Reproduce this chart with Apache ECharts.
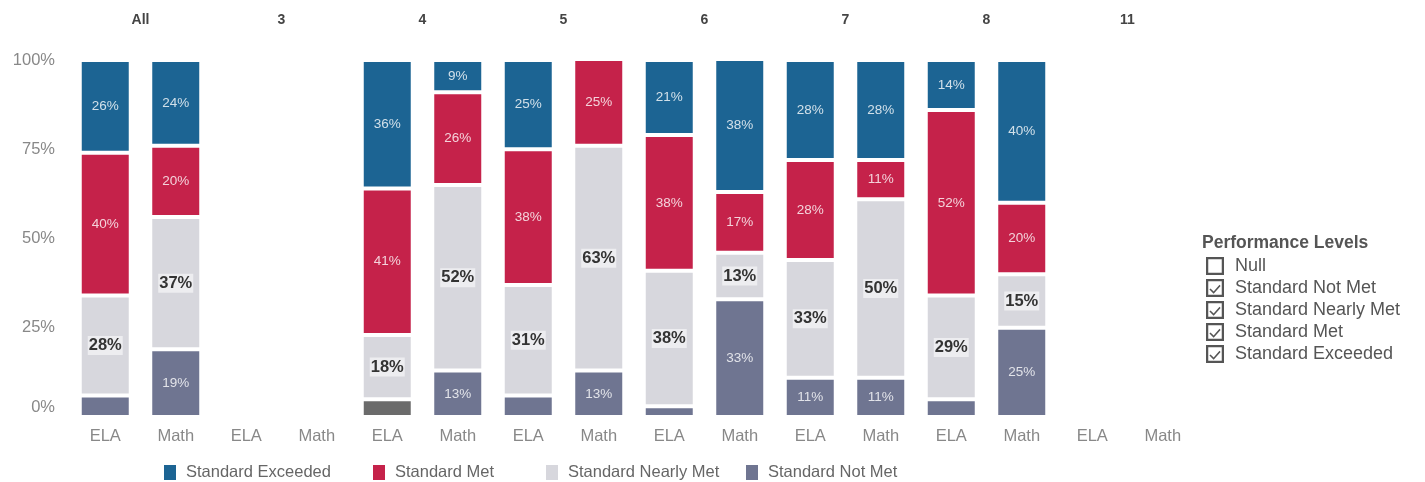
<!DOCTYPE html>
<html>
<head>
<meta charset="UTF-8">
<title>Performance Levels</title>
<script src="https://cdn.jsdelivr.net/npm/echarts@6/dist/echarts.min.js"></script>
<style>
  html, body { margin: 0; padding: 0; background: #fff; }
  #chart { width: 1425px; height: 482px; }
</style>
</head>
<body>
<div id="chart"></div>
<script>
// grades on top, subjects on the bottom axis
var grades = ['All', '3', '4', '5', '6', '7', '8', '11'];
var subjects = ['ELA', 'Math', 'ELA', 'Math', 'ELA', 'Math', 'ELA', 'Math',
                'ELA', 'Math', 'ELA', 'Math', 'ELA', 'Math', 'ELA', 'Math'];
var yTicks = [0, 25, 50, 75, 100];

// percent of students per level (grades 3 and 11 have no data)
var notMet    = [6, 19, null, null, 5, 13, 6, 13, 3, 33, 11, 11, 5, 25, null, null];
var nearlyMet = [28, 37, null, null, 18, 52, 31, 63, 38, 13, 33, 50, 29, 15, null, null];
var met       = [40, 20, null, null, 41, 26, 38, 25, 38, 17, 28, 11, 52, 20, null, null];
var exceeded  = [26, 24, null, null, 36, 9, 25, 0, 21, 38, 28, 28, 14, 40, null, null];

var FONT = '"Liberation Sans", Arial, sans-serif';
var C_EXC = '#1c6493', C_MET = '#c5224a', C_NEAR = '#d7d7dd', C_NOT = '#6f7591';

var lightLabel = {
  show: true,
  color: 'rgba(255,255,255,0.8)',
  fontFamily: FONT,
  fontSize: 13.5,
  formatter: function (p) { return p.value >= 9 ? p.value + '%' : ''; }
};
var darkLabel = {
  show: true,
  color: '#333',
  fontFamily: FONT,
  fontSize: 16.5,
  fontWeight: 'bold',
  backgroundColor: 'rgba(255,255,255,0.55)',
  padding: [1, 1],
  formatter: function (p) { return p.value >= 9 ? p.value + '%' : ''; }
};

function barSeries(name, data, color, label) {
  return {
    name: name,
    type: 'bar',
    stack: 'total',
    barWidth: 51,
    data: data,
    itemStyle: { color: color, borderColor: '#fff', borderWidth: 2 },
    label: label,
    emphasis: { disabled: true }
  };
}

var checkIcon = 'path://M0,0H20V20H0Z M2.5,2.5V17.5H17.5V2.5Z M5,10.5L8.5,14L15,6.5L16.2,7.8L8.5,16.5L3.8,11.8Z';
var boxIcon = 'path://M0,0H20V20H0Z M2.5,2.5V17.5H17.5V2.5Z';

function bottomLegend(name, left) {
  return {
    left: left, top: 459,
    data: [name],
    icon: 'rect', itemWidth: 12, itemHeight: 15,
    itemStyle: { borderWidth: 0 },
    selectedMode: false,
    textStyle: { color: '#666', fontFamily: FONT, fontSize: 16.5, padding: [0, 0, 0, 5] }
  };
}

function checkItem(name, icon) {
  return { name: name, icon: icon, itemStyle: { color: '#555', borderWidth: 0 } };
}

var chart = echarts.init(document.getElementById('chart'));
chart.setOption({
  backgroundColor: '#fff',
  animation: false,
  title: {
    text: 'Performance Levels',
    left: 1197, top: 229,
    textStyle: { color: '#555', fontFamily: FONT, fontSize: 17.5, fontWeight: 'bold' }
  },
  legend: [
    bottomLegend('Standard Exceeded', 159),
    bottomLegend('Standard Met', 368),
    bottomLegend('Standard Nearly Met', 541),
    bottomLegend('Standard Not Met', 741),
    {
      orient: 'vertical',
      left: 1201, top: 252,
      itemGap: 4, itemWidth: 18, itemHeight: 18,
      selectedMode: false,
      textStyle: { color: '#555', fontFamily: FONT, fontSize: 18, lineHeight: 18, padding: [0, 0, 0, 6] },
      data: [
        checkItem('Null', boxIcon),
        checkItem('Standard Not Met', checkIcon),
        checkItem('Standard Nearly Met', checkIcon),
        checkItem('Standard Met', checkIcon),
        checkItem('Standard Exceeded', checkIcon)
      ]
    }
  ],
  grid: { left: 70, right: 227, top: 60, bottom: 65 },
  xAxis: [
    {
      type: 'category',
      data: subjects,
      axisLine: { show: false },
      axisTick: { show: false },
      axisLabel: { color: '#888', fontFamily: FONT, fontSize: 16.5, margin: 11, interval: 0 }
    },
    {
      type: 'category',
      position: 'top',
      data: grades,
      axisLine: { show: false },
      axisTick: { show: false },
      axisLabel: { color: '#444', fontFamily: FONT, fontSize: 14, fontWeight: 'bold', margin: 33, interval: 0 }
    }
  ],
  yAxis: {
    type: 'value',
    min: yTicks[0],
    max: yTicks[yTicks.length - 1],
    interval: 25,
    splitLine: { show: false },
    axisLine: { show: false },
    axisTick: { show: false },
    axisLabel: {
      color: '#888', fontFamily: FONT, fontSize: 16.5, margin: 15,
      formatter: function (v) { return v === 0 ? '{z|0%}' : v + '%'; },
      rich: { z: { color: '#888', fontFamily: FONT, fontSize: 16.5, padding: [0, 0, 20, 0] } }
    }
  },
  series: [
    { name: 'Null', type: 'bar', stack: 'total', data: [], itemStyle: { color: '#fff' } },
    barSeries('Standard Not Met', notMet.map(function (v, i) {
      return i === 4 ? { value: v, itemStyle: { color: '#6b6b6b' } } : v;
    }), C_NOT, lightLabel),
    barSeries('Standard Nearly Met', nearlyMet, C_NEAR, darkLabel),
    barSeries('Standard Met', met, C_MET, lightLabel),
    barSeries('Standard Exceeded', exceeded, C_EXC, lightLabel)
  ]
});
</script>
</body>
</html>
